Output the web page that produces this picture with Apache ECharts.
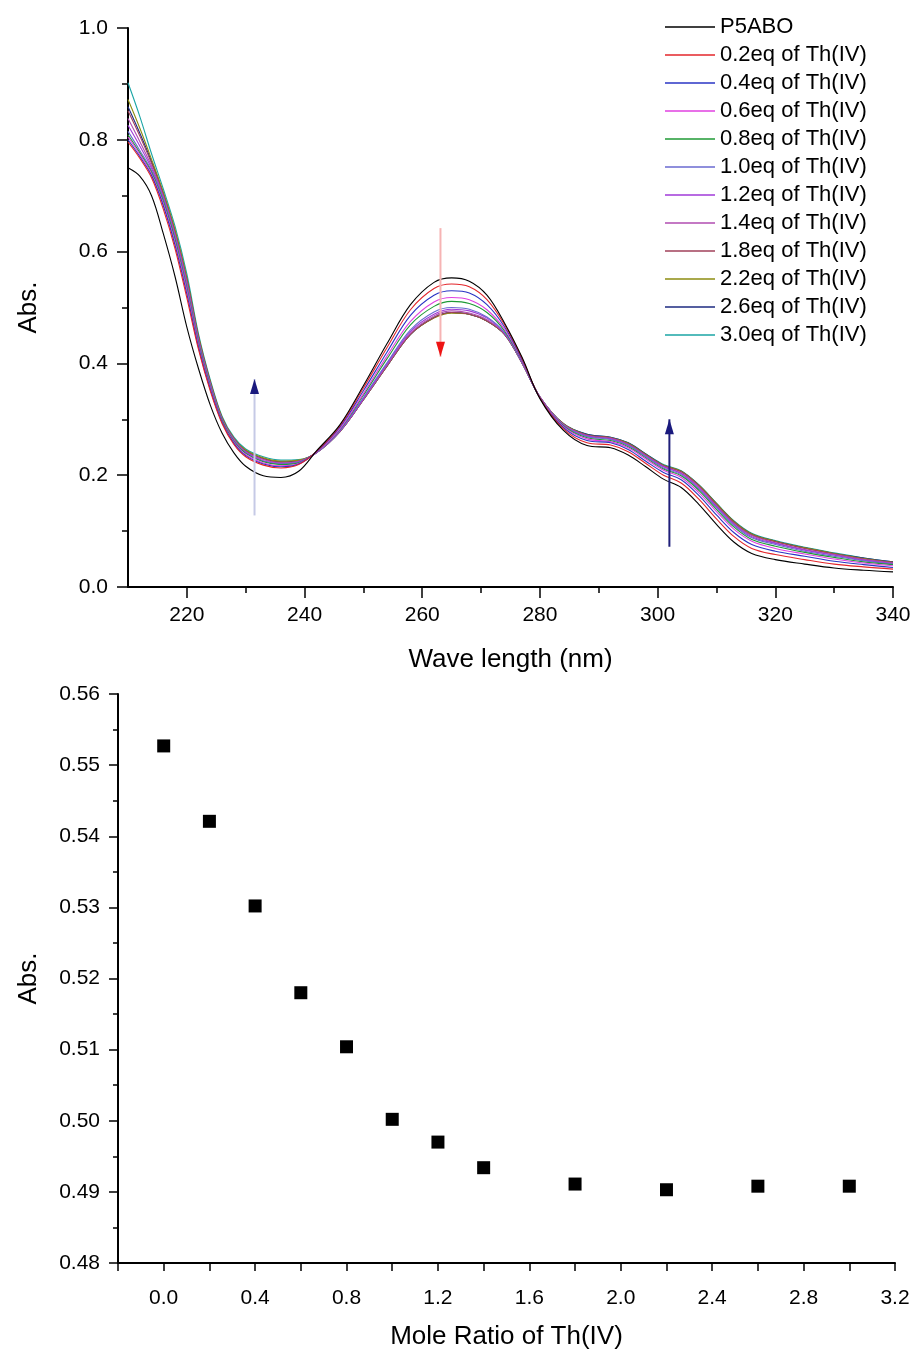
<!DOCTYPE html>
<html>
<head>
<meta charset="utf-8">
<script src="https://cdn.jsdelivr.net/npm/echarts@6/dist/echarts.min.js"></script>
<style>
html,body{margin:0;padding:0;background:#fff;}
#chart{width:914px;height:1353px;}
</style>
</head>
<body>
<div id="chart"></div>
<script>
// ---------- DATA ----------
const wavelengths = [210,212,214,216,218,220,222,224,226,228,230,233,236,239,242,246,250,254,258,262,265,268,271,274,277,280,284,288,292,295,298,301,304,307,310,313,316,320,325,330,335,340];

const absP5ABO = [0.750,0.735,0.700,0.632,0.555,0.465,0.390,0.325,0.275,0.240,0.216,0.199,0.196,0.207,0.243,0.290,0.360,0.435,0.505,0.545,0.553,0.547,0.522,0.472,0.410,0.337,0.280,0.253,0.249,0.236,0.215,0.193,0.178,0.148,0.112,0.080,0.060,0.049,0.041,0.034,0.030,0.027];
const abs02 = [0.796,0.767,0.732,0.676,0.605,0.517,0.424,0.350,0.292,0.255,0.233,0.218,0.213,0.219,0.242,0.288,0.356,0.428,0.496,0.534,0.542,0.537,0.514,0.469,0.408,0.338,0.283,0.258,0.254,0.242,0.221,0.200,0.186,0.157,0.122,0.090,0.069,0.058,0.049,0.041,0.036,0.032];
const abs04 = [0.800,0.770,0.736,0.682,0.611,0.524,0.428,0.353,0.294,0.257,0.235,0.220,0.215,0.220,0.242,0.286,0.351,0.420,0.486,0.522,0.530,0.526,0.505,0.465,0.406,0.338,0.285,0.262,0.258,0.246,0.225,0.205,0.192,0.164,0.129,0.097,0.076,0.064,0.055,0.046,0.040,0.035];
const abs06 = [0.805,0.774,0.739,0.686,0.616,0.530,0.432,0.356,0.295,0.259,0.237,0.222,0.217,0.221,0.241,0.283,0.346,0.413,0.475,0.510,0.518,0.514,0.496,0.461,0.404,0.339,0.287,0.265,0.260,0.249,0.229,0.209,0.196,0.169,0.135,0.103,0.082,0.069,0.059,0.050,0.043,0.038];
const abs08 = [0.809,0.777,0.742,0.690,0.621,0.534,0.435,0.358,0.297,0.260,0.239,0.224,0.219,0.222,0.241,0.282,0.343,0.408,0.469,0.502,0.511,0.507,0.491,0.458,0.403,0.339,0.288,0.267,0.262,0.251,0.231,0.211,0.199,0.173,0.139,0.107,0.085,0.073,0.062,0.053,0.045,0.040];
const abs10 = [0.815,0.781,0.745,0.694,0.624,0.538,0.438,0.360,0.298,0.262,0.240,0.225,0.220,0.223,0.240,0.280,0.339,0.401,0.460,0.492,0.500,0.497,0.483,0.455,0.402,0.339,0.289,0.269,0.264,0.253,0.233,0.213,0.201,0.175,0.142,0.110,0.088,0.076,0.064,0.055,0.047,0.041];
const abs12 = [0.826,0.789,0.749,0.696,0.627,0.541,0.440,0.361,0.299,0.262,0.241,0.226,0.221,0.224,0.240,0.279,0.337,0.399,0.457,0.488,0.497,0.494,0.481,0.454,0.401,0.340,0.290,0.270,0.265,0.254,0.234,0.215,0.203,0.177,0.144,0.112,0.090,0.078,0.066,0.057,0.048,0.042];
const abs14 = [0.838,0.797,0.753,0.699,0.631,0.545,0.442,0.363,0.300,0.264,0.242,0.228,0.222,0.225,0.240,0.279,0.336,0.397,0.454,0.485,0.494,0.490,0.478,0.453,0.400,0.340,0.291,0.271,0.266,0.255,0.235,0.216,0.204,0.179,0.145,0.113,0.092,0.079,0.067,0.058,0.049,0.043];
const abs18 = [0.852,0.807,0.758,0.702,0.634,0.549,0.445,0.365,0.301,0.265,0.243,0.229,0.223,0.225,0.240,0.278,0.335,0.395,0.452,0.482,0.491,0.488,0.476,0.452,0.400,0.340,0.291,0.272,0.267,0.256,0.236,0.217,0.206,0.181,0.147,0.115,0.093,0.081,0.069,0.059,0.050,0.044];
const abs22 = [0.872,0.821,0.765,0.706,0.639,0.553,0.448,0.367,0.303,0.266,0.245,0.231,0.225,0.227,0.240,0.278,0.335,0.395,0.452,0.481,0.490,0.488,0.476,0.452,0.400,0.340,0.292,0.272,0.267,0.257,0.237,0.218,0.207,0.182,0.149,0.117,0.095,0.082,0.070,0.060,0.051,0.044];
const abs26 = [0.859,0.812,0.761,0.704,0.636,0.551,0.446,0.366,0.302,0.265,0.244,0.230,0.224,0.226,0.240,0.278,0.335,0.395,0.452,0.482,0.491,0.488,0.476,0.452,0.400,0.340,0.292,0.273,0.268,0.258,0.238,0.218,0.207,0.182,0.149,0.117,0.095,0.082,0.070,0.060,0.052,0.045];
const abs30 = [0.902,0.842,0.775,0.712,0.645,0.560,0.452,0.370,0.305,0.268,0.247,0.233,0.227,0.228,0.240,0.278,0.335,0.395,0.452,0.482,0.491,0.488,0.476,0.452,0.400,0.340,0.292,0.273,0.268,0.258,0.238,0.219,0.208,0.183,0.150,0.118,0.096,0.083,0.071,0.061,0.052,0.045];

const seriesNames = ['P5ABO','0.2eq of Th(IV)','0.4eq of Th(IV)','0.6eq of Th(IV)','0.8eq of Th(IV)','1.0eq of Th(IV)','1.2eq of Th(IV)','1.4eq of Th(IV)','1.8eq of Th(IV)','2.2eq of Th(IV)','2.6eq of Th(IV)','3.0eq of Th(IV)'];
const seriesValues = [absP5ABO,abs02,abs04,abs06,abs08,abs10,abs12,abs14,abs18,abs22,abs26,abs30];

// arrows (wavelength, start Abs, end Abs)
const arrowX = [231.5, 263.1, 302.0];
const arrowFrom = [0.128, 0.642, 0.072];
const arrowTo = [0.372, 0.412, 0.300];

// titration (bottom)
const moleRatio = [0.0,0.2,0.4,0.6,0.8,1.0,1.2,1.4,1.8,2.2,2.6,3.0];
const absAt265 = [0.5527,0.5421,0.5302,0.5180,0.5104,0.5002,0.4970,0.4934,0.4911,0.4903,0.4908,0.4908];

// tick labels
const wlMajorTicks = [220,240,260,280,300,320,340];
const wlMinorTicks = [230,250,270,290,310,330];
const moleLabelTicks = [0.0,0.4,0.8,1.2,1.6,2.0,2.4,2.8,3.2];

// ---------- STYLE ----------
const colors = ['#000000','#e3262b','#2a34c4','#e040e0','#1f9a35','#6a6ad0','#a03ad8','#b04cb0','#a0405a','#8c8c10','#1d2a80','#1aa5a5'];
const FONT = 'Arial, "Liberation Sans", sans-serif';
const axisLineStyle = {color:'#000', width:2};
const tickStyle = {color:'#000', width:1.5};

const series = [];
seriesValues.forEach((vals, i) => {
  series.push({
    name: seriesNames[i], type:'line', xAxisIndex:0, yAxisIndex:0,
    data: wavelengths.map((w, j) => [w, vals[j]]),
    symbol:'none', showSymbol:false, smooth:0.35,
    lineStyle:{color:colors[i], width:1.1}, itemStyle:{color:colors[i]},
    z: 2 + (11 - i) * 0.01, silent:true
  });
});

const shaftColors = ['#c6cae6','#f6b4b4','#1f1f7a'];
const headColors = ['#1a1a7e','#ee1414','#1a1a7e'];
arrowX.forEach((x, k) => {
  series.push({
    type:'line', xAxisIndex:0, yAxisIndex:0, symbol:'none', silent:true, z:5,
    data:[[x, arrowFrom[k]], [x, arrowTo[k]]],
    lineStyle:{color:shaftColors[k], width:2}
  });
  const up = arrowTo[k] > arrowFrom[k];
  series.push({
    type:'scatter', xAxisIndex:0, yAxisIndex:0, silent:true, z:6,
    data:[[x, arrowTo[k]]],
    symbol:'triangle', symbolSize:[9,15], symbolRotate: up ? 0 : 180,
    symbolOffset:[0, up ? '50%' : '-50%'],
    itemStyle:{color:headColors[k], opacity:1}
  });
});

series.push({
  type:'scatter', xAxisIndex:2, yAxisIndex:1, silent:true,
  data: moleRatio.map((m, i) => [m, absAt265[i]]),
  symbol:'rect', symbolSize:13, itemStyle:{color:'#000', opacity:1}
});

const option = {
  backgroundColor:'#fff',
  animation:false,
  textStyle:{fontFamily:FONT},
  legend:{
    data: seriesNames, orient:'vertical', left:660, top:11,
    itemWidth:50, itemHeight:1.6, itemGap:6, icon:'rect',
    textStyle:{fontSize:22, color:'#000', fontFamily:FONT}
  },
  grid:[
    {left:128, top:28, width:765, height:559},
    {left:118, top:694, width:777, height:569}
  ],
  xAxis:[
    {type:'value', gridIndex:0, position:'bottom', min:210, max:340,
     axisLine:{show:true, onZero:false, lineStyle:axisLineStyle},
     axisTick:{show:true, customValues:wlMajorTicks, length:11, lineStyle:tickStyle},
     axisLabel:{show:true, customValues:wlMajorTicks, fontSize:21, color:'#000', margin:18, fontFamily:FONT},
     splitLine:{show:false},
     name:'Wave length (nm)', nameLocation:'middle', nameGap:60,
     nameTextStyle:{fontSize:26, color:'#000', fontFamily:FONT}},
    {type:'value', gridIndex:0, position:'bottom', offset:0, min:210, max:340,
     axisLine:{show:false, onZero:false},
     axisTick:{show:true, customValues:wlMinorTicks, length:6, lineStyle:tickStyle},
     axisLabel:{show:false}, splitLine:{show:false}},
    {type:'value', gridIndex:1, position:'bottom', min:-0.2, max:3.2, interval:0.2,
     axisLine:{show:true, onZero:false, lineStyle:axisLineStyle},
     axisTick:{show:true, length:8, lineStyle:tickStyle},
     axisLabel:{show:true, customValues:moleLabelTicks, formatter:v=>v.toFixed(1), fontSize:21, color:'#000', margin:25, fontFamily:FONT},
     splitLine:{show:false},
     name:'Mole Ratio of Th(IV)', nameLocation:'middle', nameGap:61,
     nameTextStyle:{fontSize:26, color:'#000', fontFamily:FONT}}
  ],
  yAxis:[
    {type:'value', gridIndex:0, min:0, max:1.0, interval:0.2,
     axisLine:{show:true, onZero:false, lineStyle:axisLineStyle},
     axisTick:{show:true, length:11, lineStyle:tickStyle},
     minorTick:{show:true, splitNumber:2, length:6, lineStyle:tickStyle},
     axisLabel:{formatter:v=>v.toFixed(1), fontSize:21, color:'#000', margin:20, fontFamily:FONT},
     splitLine:{show:false}, minorSplitLine:{show:false},
     name:'Abs.', nameLocation:'middle', nameGap:86,
     nameTextStyle:{fontSize:26, color:'#000', fontFamily:FONT}},
    {type:'value', gridIndex:1, min:0.48, max:0.56, interval:0.01,
     axisLine:{show:true, onZero:false, lineStyle:axisLineStyle},
     axisTick:{show:true, length:9, lineStyle:tickStyle},
     minorTick:{show:true, splitNumber:2, length:5, lineStyle:tickStyle},
     axisLabel:{formatter:v=>v.toFixed(2), fontSize:21, color:'#000', margin:18, fontFamily:FONT},
     splitLine:{show:false}, minorSplitLine:{show:false},
     name:'Abs.', nameLocation:'middle', nameGap:76,
     nameTextStyle:{fontSize:26, color:'#000', fontFamily:FONT}}
  ],
  series: series
};

const chart = echarts.init(document.getElementById('chart'), null, {renderer:'canvas'});
chart.setOption(option);
</script>
</body>
</html>
